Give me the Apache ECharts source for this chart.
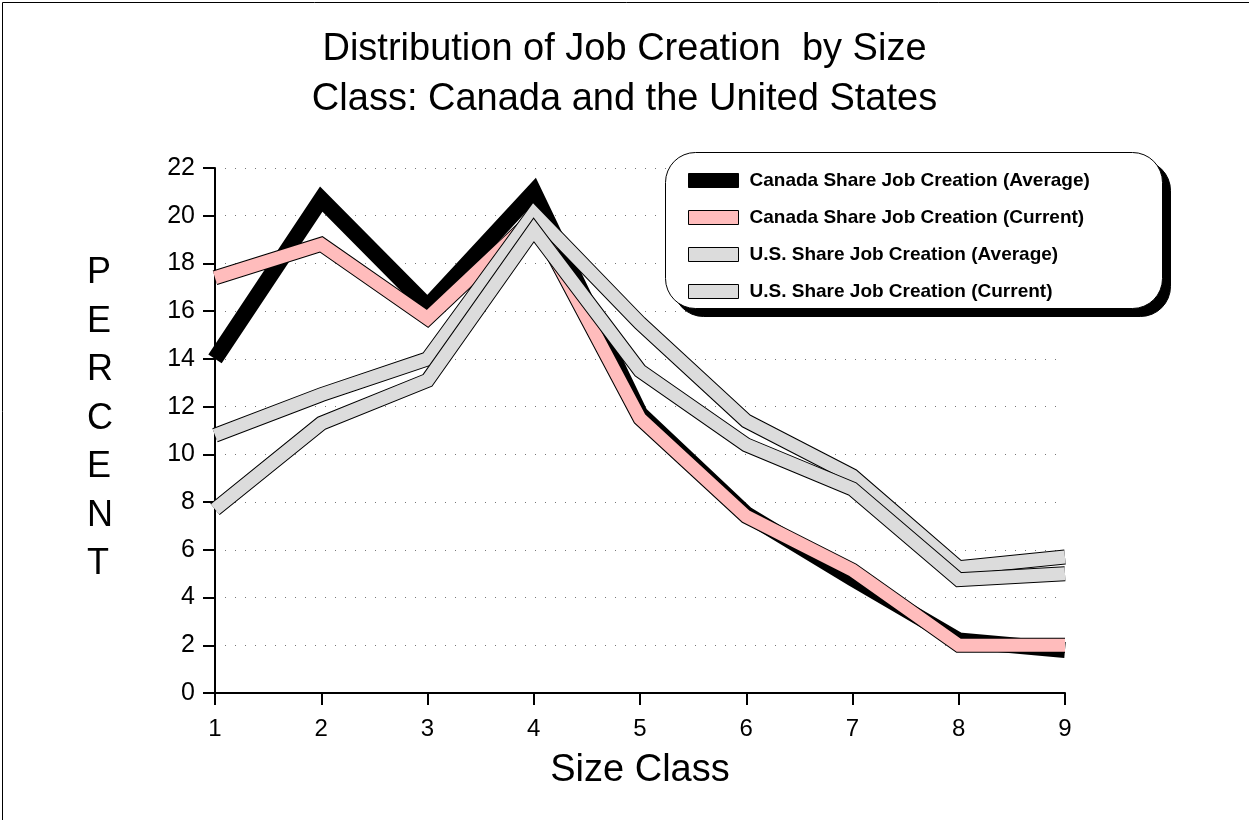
<!DOCTYPE html>
<html>
<head>
<meta charset="utf-8">
<script src="https://cdn.jsdelivr.net/npm/echarts@6/dist/echarts.min.js"></script>
<style>html,body{margin:0;padding:0;background:#fff}#c{width:1249px;height:820px}</style>
</head>
<body>
<div id="c"></div>
<script>
const sizeClasses = [1, 2, 3, 4, 5, 6, 7, 8, 9];
const canadaAverage = [14.0, 20.7, 16.2, 21.0, 11.7, 7.5, 4.8, 2.2, 1.8];
const canadaCurrent = [17.4, 18.8, 15.7, 19.9, 11.5, 7.4, 5.15, 2.0, 2.0];
const usAverage = [10.8, 12.5, 14.0, 20.1, 15.5, 11.4, 9.1, 5.25, 5.7];
const usCurrent = [7.7, 11.3, 13.1, 19.4, 13.5, 10.4, 8.55, 4.75, 5.0];
const seriesNames = [
  'Canada Share Job Creation (Average)',
  'Canada Share Job Creation (Current)',
  'U.S. Share Job Creation (Average)',
  'U.S. Share Job Creation (Current)'
];
const yTicks = [0, 2, 4, 6, 8, 10, 12, 14, 16, 18, 20, 22];

const font = 'Liberation Sans, Arial, sans-serif';
const pair = (xs, ys) => xs.map((x, i) => [x, ys[i]]);

function band(name, data, color, fillW, outlineW) {
  const out = [];
  if (outlineW) {
    out.push({
      name: name + ' outline', type: 'line', data: data, symbol: 'none',
      lineStyle: { color: '#000', width: outlineW, join: 'miter', cap: 'butt' },
      itemStyle: { color: '#000' }, silent: true, animation: false
    });
  }
  out.push({
    name: name, type: 'line', data: data, symbol: 'none',
    lineStyle: { color: color, width: fillW, join: 'miter', cap: 'butt' },
    itemStyle: { color: color }, animation: false
  });
  return out;
}

const chart = echarts.init(document.getElementById('c'), null, { renderer: 'canvas' });
chart.setOption({
  backgroundColor: '#fff',
  animation: false,
  title: {
    text: 'Distribution of Job Creation  by Size\nClass: Canada and the United States',
    left: 'center', top: 20,
    textStyle: { fontFamily: font, fontSize: 38, fontWeight: 'normal', color: '#000', lineHeight: 50 }
  },
  grid: { left: 215, right: 184, top: 168, bottom: 127 },
  legend: {
    data: seriesNames,
    orient: 'vertical', left: 665, top: 152,
    padding: [18, 77, 12, 23],
    itemWidth: 50, itemHeight: 14, itemGap: 16,
    icon: 'rect',
    itemStyle: { borderColor: '#000', borderWidth: 1 },
    textStyle: { fontFamily: font, fontSize: 19, lineHeight: 21, fontWeight: 'bold', color: '#000', padding: [0, 0, 0, 6] },
    z: 10
  },
  xAxis: {
    type: 'value', min: 1, max: 9, interval: 1,
    name: 'Size Class', nameLocation: 'middle', nameGap: 59,
    nameTextStyle: { fontFamily: font, fontSize: 38, color: '#000' },
    axisLine: { lineStyle: { color: '#000', width: 2 } },
    axisTick: { length: 12, lineStyle: { color: '#000', width: 2 } },
    axisLabel: { fontFamily: font, fontSize: 24, color: '#000', margin: 24 },
    splitLine: { show: false }
  },
  yAxis: {
    type: 'value', min: 0, max: 22, interval: 2,
    axisLine: { show: true, lineStyle: { color: '#000', width: 2 } },
    axisTick: { show: true, length: 12, lineStyle: { color: '#000', width: 2 } },
    axisLabel: { fontFamily: font, fontSize: 25, color: '#000', margin: 20 },
    splitLine: { show: true, lineStyle: { color: '#777', width: 1, type: [1, 9] } }
  },
  graphic: [
    { type: 'rect', left: 0, top: 0, shape: { width: 1248, height: 819 }, style: { fill: 'none', stroke: '#000', lineWidth: 1 }, z: 100 },
    { type: 'text', left: 87, top: 249, style: { text: 'P\nE\nR\nC\nE\nN\nT', fontFamily: font, fontSize: 36, lineHeight: 48.5, fill: '#000', align: 'center' } },
    { type: 'rect', left: 673, top: 160, z: 8, shape: { width: 497, height: 156, r: 30 }, style: { fill: '#000', stroke: '#000', lineWidth: 1 } },
    { type: 'rect', left: 665, top: 152, z: 9, shape: { width: 497, height: 156, r: 30 }, style: { fill: '#fff', stroke: '#000', lineWidth: 1 } }
  ],
  series: [].concat(
    band(seriesNames[0], pair(sizeClasses, canadaAverage), '#000', 16, 0),
    band(seriesNames[1], pair(sizeClasses, canadaCurrent), '#ffbcbc', 13, 15),
    band(seriesNames[2], pair(sizeClasses, usAverage), '#dcdcdc', 13, 15),
    band(seriesNames[3], pair(sizeClasses, usCurrent), '#dcdcdc', 13, 15)
  )
});
</script>
</body>
</html>
